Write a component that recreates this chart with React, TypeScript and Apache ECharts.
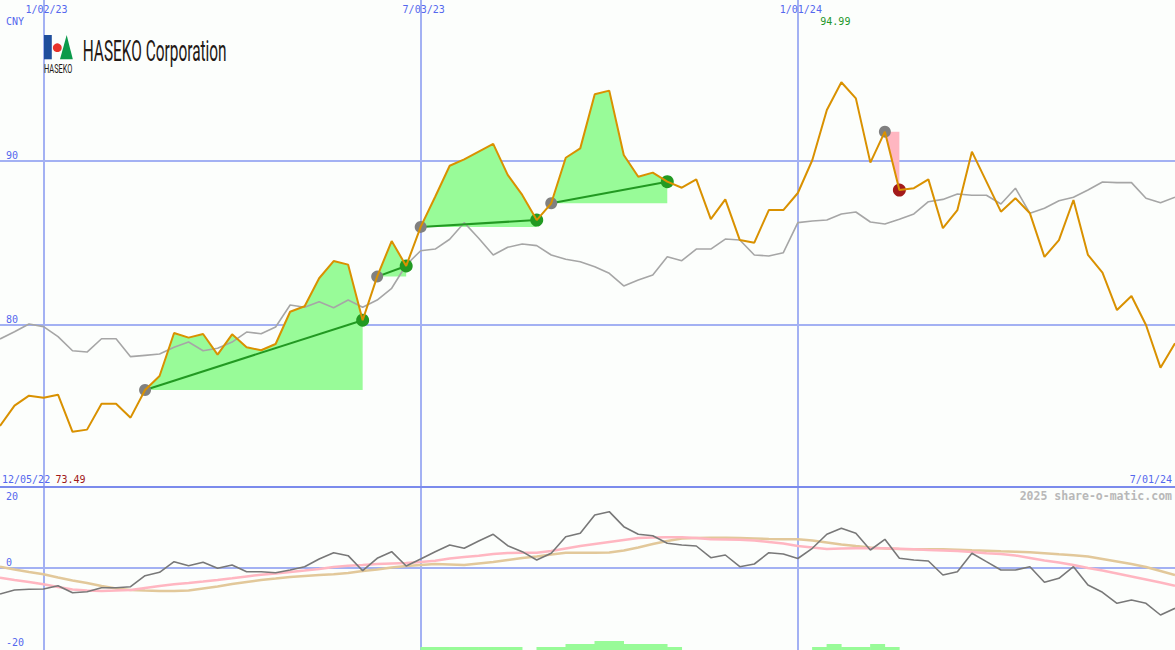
import { useEffect, useRef } from 'react';
import * as echarts from 'echarts';

// ---- labels / ticks ----
const startLabel = '12/05/22';
const endLabel = '7/01/24';
const currency = 'CNY';
const dateTickWeeks = [3, 29, 55];
const dateTickLabels = ['1/02/23', '7/03/23', '1/01/24'];
const priceTicks = [90, 80];
const oscTicks = [20, 0, -20];
const maxLabel = '94.99';
const minLabel = '73.49';
const maxWeek = 58;
const watermark = '2025 share-o-matic.com';
const companyName = 'HASEKO Corporation';
const companyShort = 'HASEKO';

// ---- weekly price (orange) ----
const price = [
  73.84, 75.08, 75.69, 75.57, 75.75, 73.49, 73.62, 75.2, 75.2, 74.35,
  76.04, 76.89, 79.51, 79.23, 79.45, 78.19, 79.43, 78.64, 78.46, 78.84,
  80.81, 81.14, 82.85, 83.9, 83.68, 80.29, 82.95, 85.12, 83.6, 85.98,
  87.82, 89.71, 90.1, 90.57, 91.04, 89.15, 87.93, 86.4, 87.42, 90.2,
  90.77, 94.07, 94.29, 90.37, 89.04, 89.29, 88.74, 88.37, 88.88, 86.46,
  87.66, 85.18, 85.02, 87.01, 87.01, 88.05, 90.06, 93.11, 94.8, 93.82,
  89.9, 91.79, 88.23, 88.34, 88.88, 85.9, 87.01, 90.57, 88.74, 86.91,
  87.73, 86.81, 84.15, 85.18, 87.62, 84.27, 83.19, 80.91, 81.77, 80.0,
  77.4, 78.88,
];

// ---- relative / benchmark (grey) ----
const relative = [
  79.15, 79.59, 80.06, 79.9, 79.29, 78.43, 78.35, 79.16, 79.16, 78.07,
  78.15, 78.23, 78.64, 78.96, 78.43, 78.58, 78.96, 79.57, 79.47, 79.88,
  81.22, 81.08, 81.42, 81.05, 81.52, 81.08, 81.52, 82.24, 83.66, 84.53,
  84.63, 85.23, 86.24, 85.29, 84.27, 84.74, 84.94, 84.84, 84.27, 84.01,
  83.86, 83.55, 83.15, 82.38, 82.74, 83.05, 84.16, 83.92, 84.63, 84.63,
  85.24, 85.18, 84.27, 84.21, 84.41, 86.24, 86.34, 86.4, 86.77, 86.89,
  86.28, 86.16, 86.45, 86.77, 87.52, 87.66, 87.99, 87.91, 87.91, 87.38,
  88.34, 86.81, 87.12, 87.58, 87.79, 88.23, 88.72, 88.68, 88.68, 87.73,
  87.46, 87.79,
];

// ---- lower panel ----
const oscillator = [
  -6.5, -5.5, -5.33, -5.25, -4.43, -6.18, -5.93, -4.93, -4.93, -4.68,
  -1.93, -1.08, 1.58, 0.58, 1.43, -0.08, 0.75, -0.93, -0.93, -1.18,
  -0.5, 0.33, 2.25, 3.83, 3.08, -0.68, 2.43, 4.08, 0.5, 2.25,
  4.08, 5.75, 4.93, 6.75, 8.43, 5.58, 4.08, 2.0, 3.68, 7.83,
  8.68, 13.25, 14.08, 10.33, 8.43, 8.08, 6.18, 5.75, 5.5, 2.58,
  3.25, 0.33, 1.0, 3.83, 3.5, 2.38, 4.93, 8.43, 9.93, 8.68,
  4.5, 7.18, 2.43, 2.0, 1.75, -1.75, -0.93, 3.68, 1.58, -0.5,
  -0.5, 0.33, -3.58, -2.58, 0.33, -4.25, -6.08, -8.83, -8.0, -8.83,
  -11.75, -10.08,
];
const oscFast = [
  -2.43, -3.0, -3.5, -4.08, -4.75, -5.38, -5.63, -5.75, -5.63, -5.5,
  -5.0, -4.5, -4.08, -3.75, -3.38, -3.0, -2.58, -2.13, -1.68, -1.38,
  -1.0, -0.63, -0.25, 0.25, 0.58, 0.75, 1.0, 1.13, 1.25, 1.5,
  1.83, 2.38, 2.75, 3.08, 3.5, 3.75, 3.83, 3.83, 4.25, 4.88,
  5.5, 6.0, 6.5, 7.0, 7.5, 7.63, 7.68, 7.68, 7.5, 7.18,
  7.13, 7.08, 6.88, 6.5, 6.13, 5.5, 5.13, 4.75, 4.88, 4.93,
  4.93, 4.93, 4.83, 4.68, 4.5, 4.38, 4.25, 4.0, 3.68, 3.5,
  3.13, 2.5, 1.88, 1.38, 0.75, 0.0, -0.63, -1.38, -2.13, -2.88,
  -3.63, -4.43,
];
const oscSlow = [
  0.33, -0.38, -1.0, -1.58, -2.38, -3.13, -3.75, -4.5, -5.13, -5.5,
  -5.63, -5.75, -5.75, -5.63, -5.13, -4.63, -4.0, -3.5, -3.0, -2.63,
  -2.25, -2.0, -1.75, -1.58, -1.25, -0.75, -0.38, 0.13, 0.5, 0.75,
  1.0, 0.88, 0.75, 1.13, 1.5, 2.0, 2.5, 2.88, 3.38, 3.83,
  3.83, 3.83, 3.88, 4.38, 5.13, 6.0, 6.75, 7.38, 7.5, 7.58,
  7.58, 7.5, 7.38, 7.25, 7.18, 7.18, 6.88, 6.38, 5.88, 5.5,
  5.13, 4.88, 4.75, 4.68, 4.68, 4.68, 4.58, 4.43, 4.33, 4.18,
  4.08, 3.93, 3.7, 3.43, 3.18, 2.88, 2.25, 1.63, 1.0, 0.25,
  -0.75, -1.75,
];
const signalWeeks = [
  29, 30, 31, 32, 33, 34, 35,
  37, 38, 39, 40, 41, 42, 43, 44, 45, 46,
  56, 57, 58, 59, 60, 61,
];
const signalLevels = [
  1, 1, 1, 1, 1, 1, 1,
  1, 1, 2, 2, 3, 3, 2, 2, 2, 1,
  1, 2, 1, 1, 2, 1,
];

// ---- trade runs (start week, end week) ----
const gainRuns = [[10, 25], [26, 28], [29, 37], [38, 46]];
const lossRuns = [[61, 62]];

const BLUE_TEXT = '#5468ee';
const GRID_BLUE = '#a3b1f3';
const MONO = '"DejaVu Sans Mono", monospace';

function measure(text: string, font: string) {
  const c = document.createElement('canvas').getContext('2d');
  if (!c) return text.length * 10;
  c.font = font;
  return c.measureText(text).width;
}

export default function App() {
  const ref = useRef<HTMLDivElement>(null);
  useEffect(() => {
    const el = ref.current!;
    const chart = echarts.init(el, null, { renderer: 'svg' });
    const pts = (arr: number[]) => arr.map((v, i) => [i, v]);
    const lastWeek = price.length - 1;
    const runs = [
      ...gainRuns.map((r) => ({ s: r[0], e: r[1], gain: true })),
      ...lossRuns.map((r) => ({ s: r[0], e: r[1], gain: false })),
    ];
    const gridLineStyle = { color: GRID_BLUE, width: 2, type: 'solid' as const };

    const series: any[] = [
      {
        type: 'custom',
        xAxisIndex: 0,
        yAxisIndex: 0,
        z: 2,
        silent: true,
        data: runs.map((r, i) => [r.s, price[r.s], i]),
        encode: { x: 0, y: 1 },
        renderItem: (_p: any, api: any) => {
          const r = runs[api.value(2)];
          const base = price[r.s];
          const poly: number[][] = [];
          for (let k = r.s; k <= r.e; k++) poly.push(api.coord([k, price[k]]));
          poly.push(api.coord([r.e, base]));
          poly.push(api.coord([r.s, base]));
          return {
            type: 'polygon',
            shape: { points: poly },
            style: { fill: r.gain ? '#98fb98' : '#ffb6c1' },
          };
        },
      },
      {
        type: 'line',
        xAxisIndex: 0,
        yAxisIndex: 0,
        z: 3,
        data: pts(relative),
        showSymbol: false,
        lineStyle: { color: '#a6a6a6', width: 1.6 },
        markLine: {
          z: 1,
          silent: true,
          symbol: ['none', 'none'],
          label: { show: false },
          lineStyle: gridLineStyle,
          data: [
            ...dateTickWeeks.map((k) => ({ xAxis: k })),
            ...priceTicks.map((v) => ({ yAxis: v })),
          ],
        },
      },
      ...gainRuns.map((r) => ({
        type: 'line',
        xAxisIndex: 0,
        yAxisIndex: 0,
        z: 4,
        data: [[r[0], price[r[0]]], [r[1], price[r[1]]]],
        showSymbol: false,
        lineStyle: { color: '#229922', width: 2 },
      })),
      {
        type: 'scatter',
        xAxisIndex: 0,
        yAxisIndex: 0,
        z: 5,
        symbolSize: 12,
        itemStyle: { color: '#808080', opacity: 1 },
        data: runs.map((r) => [r.s, price[r.s]]),
      },
      {
        type: 'scatter',
        xAxisIndex: 0,
        yAxisIndex: 0,
        z: 5,
        symbolSize: 13,
        itemStyle: { color: '#229a22', opacity: 1 },
        data: gainRuns.map((r) => [r[1], price[r[1]]]),
      },
      {
        type: 'scatter',
        xAxisIndex: 0,
        yAxisIndex: 0,
        z: 5,
        symbolSize: 13,
        itemStyle: { color: '#a31b1b', opacity: 1 },
        data: lossRuns.map((r) => [r[1], price[r[1]]]),
      },
      {
        type: 'line',
        xAxisIndex: 0,
        yAxisIndex: 0,
        z: 6,
        data: pts(price),
        showSymbol: false,
        lineStyle: { color: '#d99100', width: 2 },
      },
      // lower panel
      {
        type: 'bar',
        xAxisIndex: 1,
        yAxisIndex: 2,
        z: 2,
        barWidth: 15,
        itemStyle: { color: '#98fb98' },
        data: signalWeeks.map((k, i) => [k + 0.5, signalLevels[i]]),
      },
      {
        type: 'line',
        xAxisIndex: 1,
        yAxisIndex: 1,
        z: 3,
        data: pts(oscSlow),
        showSymbol: false,
        lineStyle: { color: '#e2c89a', width: 2.5 },
        markLine: {
          z: 1,
          silent: true,
          symbol: ['none', 'none'],
          label: { show: false },
          lineStyle: gridLineStyle,
          data: [...dateTickWeeks.map((k) => ({ xAxis: k })), { yAxis: 0 }],
        },
      },
      {
        type: 'line',
        xAxisIndex: 1,
        yAxisIndex: 1,
        z: 4,
        data: pts(oscFast),
        showSymbol: false,
        lineStyle: { color: '#ffb6c1', width: 2.5 },
      },
      {
        type: 'line',
        xAxisIndex: 1,
        yAxisIndex: 1,
        z: 5,
        data: pts(oscillator),
        showSymbol: false,
        lineStyle: { color: '#787878', width: 1.6 },
      },
    ];

    const mainTop = 0;
    const mainH = 487;
    const lowTop = 487;
    const lowH = 163;
    const hiddenX = (gridIndex: number) => ({
      type: 'value', gridIndex, min: 0, max: lastWeek, show: false,
    });

    chart.setOption({
      animation: false,
      backgroundColor: '#fcfefc',
      grid: [
        { left: 0, right: 0, top: mainTop, height: mainH },
        { left: 0, right: 0, top: lowTop, height: lowH },
      ],
      xAxis: [hiddenX(0), hiddenX(1)],
      yAxis: [
        { type: 'value', gridIndex: 0, min: 70.122, max: 99.817, show: false },
        { type: 'value', gridIndex: 1, min: -20.5, max: 20.25, show: false },
        { type: 'value', gridIndex: 1, min: 0, max: 163 / 3, show: false },
      ],
      series,
    });

    const P = (g: number, k: number, v: number) =>
      chart.convertToPixel({ xAxisIndex: g, yAxisIndex: g }, [k, v]) as number[];

    const font = `10px ${MONO}`;
    const txt = (x: number, y: number, text: string, fill: string, align = 'left', f = font) => ({
      type: 'text',
      x,
      y,
      z: 10,
      silent: true,
      style: { text, fill, font: f, align, verticalAlign: 'middle' },
    });

    const graphics: any[] = [];
    graphics.push({
      type: 'rect',
      z: 9,
      silent: true,
      shape: { x: 0, y: lowTop - 1, width: 1175, height: 2 },
      style: { fill: '#7b8bec' },
    });
    dateTickWeeks.forEach((k, i) => {
      graphics.push(txt(P(0, k, 90)[0] + 3, 9, dateTickLabels[i], BLUE_TEXT, 'center'));
    });
    graphics.push(txt(6, 21, currency, BLUE_TEXT));
    priceTicks.forEach((v) => {
      graphics.push(txt(6, P(0, 0, v)[1] - 5.5, String(v), BLUE_TEXT));
    });
    oscTicks.forEach((v) => {
      const ly = P(1, 0, v)[1];
      let y = ly - 5.5;
      if (y < lowTop + 6) y = ly + 8;
      graphics.push(txt(6, y, String(v), BLUE_TEXT));
    });
    graphics.push(txt(P(0, maxWeek, 90)[0] - 6, 21, maxLabel, '#22962a', 'center'));
    graphics.push(txt(2, 479.5, startLabel, BLUE_TEXT));
    graphics.push(txt(55.5, 479.5, minLabel, '#a01818'));
    graphics.push(txt(1172, 479, endLabel, BLUE_TEXT, 'right'));
    graphics.push(txt(1172, 496, watermark, '#b8b8b8', 'right', `bold 11.5px ${MONO}`));

    // logo
    const bigFont = '29px Roboto';
    const smallFont = '12px Roboto';
    const bigScale = 144 / measure(companyName, bigFont);
    const smallScale = 28.5 / measure(companyShort, smallFont);
    graphics.push(
      { type: 'rect', z: 10, silent: true, shape: { x: 44, y: 35, width: 7.8, height: 24.3 }, style: { fill: '#1f4e9c' } },
      { type: 'circle', z: 10, silent: true, shape: { cx: 57.3, cy: 47.7, r: 4.4 }, style: { fill: '#e8322a' } },
      {
        type: 'polygon', z: 10, silent: true,
        shape: { points: [[66.7, 35], [60, 59.3], [72.8, 59.3]] },
        style: { fill: '#0b9a4a' },
      },
      {
        type: 'text', z: 10, silent: true, x: 44, y: 68.8, scaleX: smallScale,
        style: { text: companyShort, fill: '#231815', font: smallFont, verticalAlign: 'middle' },
      },
      {
        type: 'text', z: 10, silent: true, x: 82.7, y: 51, scaleX: bigScale,
        style: { text: companyName, fill: '#231815', font: bigFont, verticalAlign: 'middle' },
      },
    );

    chart.setOption({ graphic: { elements: graphics } });

    return () => chart.dispose();
  }, []);

  return (
    <div
      ref={ref}
      style={{ position: 'fixed', left: 0, top: 0, width: 1175, height: 650, background: '#fcfefc' }}
    />
  );
}
